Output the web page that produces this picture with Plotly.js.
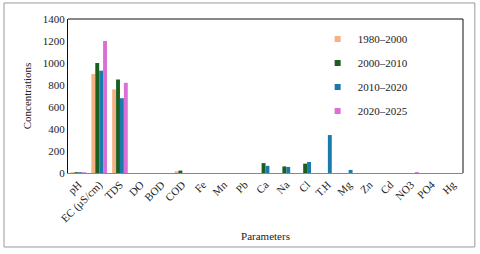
<!DOCTYPE html>
<html>
<head>
<meta charset="utf-8">
<script src="https://cdn.plot.ly/plotly-3.0.1.min.js"></script>
<style>html,body{margin:0;padding:0;background:#fff;}#chart{width:480px;height:254px;}</style>
</head>
<body>
<div id="chart"></div>
<script>
var categories = ["pH","EC (µS/cm)","TDS","DO","BOD","COD","Fe","Mn","Pb","Ca","Na","Cl","T.H","Mg","Zn","Cd","NO3","PO4","Hg"];
var seriesNames = ["1980–2000","2000–2010","2010–2020","2020–2025"];
var s1980 = [7, 900, 760, 0, 0, 15, 0, 0, 0, 0, 0, 0, 0, 0, 0, 0, 0, 0, 0];
var s2000 = [7.5, 1000, 850, 0, 0, 22, 0, 0, 0, 90, 60, 85, 0, 0, 0, 0, 0, 0, 0];
var s2010 = [7.2, 930, 680, 0, 0, 0, 0, 0, 0, 65, 55, 100, 345, 28, 0, 0, 0, 0, 0];
var s2020 = [7, 1200, 820, 0, 0, 0, 0, 0, 0, 0, 0, 0, 0, 0, 0, 0, 8, 0, 0];
var colors = ["#F4B183", "#1B5E20", "#1A7AAA", "#DA6FD6"];
var allSeries = [s1980, s2000, s2010, s2020];

var traces = allSeries.map(function(v, i){
  return {type:'bar', x: categories, y: v, name: seriesNames[i], showlegend: false,
          marker:{color: colors[i], line:{width:0}}};
});
// legend entries with small square keys
seriesNames.forEach(function(n, i){
  traces.push({type:'scatter', mode:'markers', x:[null], y:[null], name:n, legendgroup:'g'+i,
               marker:{symbol:'square', size:6, color: colors[i]}});
});

var font = "Liberation Serif";
var layout = {
  width: 480, height: 254,
  margin: {l:68, r:17, t:19, b:81, pad:0},
  paper_bgcolor: '#fff', plot_bgcolor: '#fff',
  font: {family: font, size: 11, color: '#222'},
  barmode: 'group', bargap: 0.25, bargroupgap: 0,
  showlegend: true,
  legend: {x: 0.632, y: 0.965, xanchor: 'left', yanchor: 'top', bgcolor: 'rgba(0,0,0,0)',
           font: {family: font, size: 11, color: '#222'}, tracegroupgap: 5, itemwidth: 30},
  xaxis: {tickangle: -45, showline: true, linecolor: '#888', linewidth: 1, ticks: '',
          showgrid: false, zeroline: false, tickfont: {family: font, size: 11, color:'#222'},
          title: {text: 'Parameters', font: {family: font, size: 11, color:'#222'}, standoff: 8}},
  yaxis: {range: [0, 1400], dtick: 200, showline: true, linecolor: '#111', linewidth: 1,
          ticks: '', showgrid: false, zeroline: false, tickfont: {family: font, size: 11, color:'#222'},
          title: {text: 'Concentrations', font: {family: font, size: 11, color:'#222'}, standoff: 8}},
  shapes: [
    {type:'line', xref:'paper', yref:'paper', x0:0, x1:1, y0:1, y1:1, line:{color:'#111', width:1}},
    {type:'line', xref:'paper', yref:'paper', x0:1, x1:1, y0:0, y1:1, line:{color:'#111', width:1}},
    {type:'rect', xref:'paper', yref:'paper', x0:-0.162, x1:1.030, y0:-0.4805, y1:1.104, line:{color:'#999', width:1}}
  ]
};
Plotly.newPlot('chart', traces, layout, {staticPlot: true, displayModeBar: false});
</script>
</body>
</html>
